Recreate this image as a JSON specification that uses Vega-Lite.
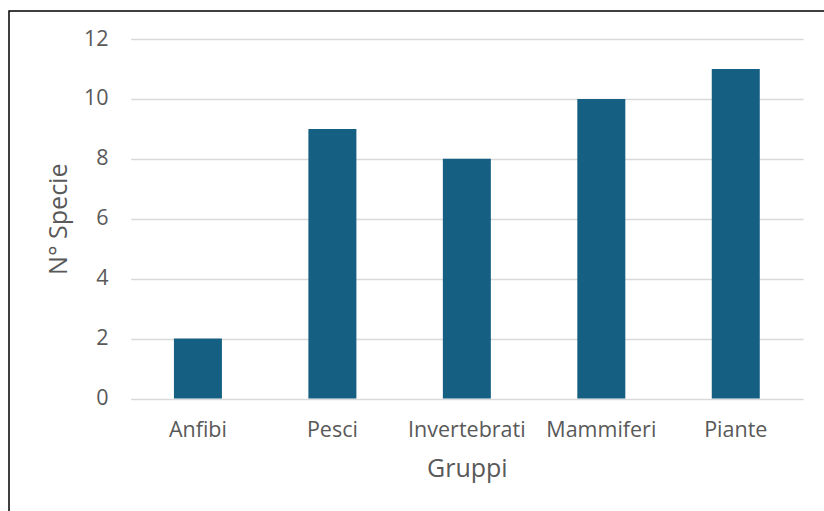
{
  "$schema": "https://vega.github.io/schema/vega-lite/v6.json",
  "autosize": {"type": "none"},
  "width": 830,
  "height": 520,
  "padding": {"left": 9, "top": 11, "right": 0, "bottom": 0},
  "background": "#ffffff",
  "config": {
    "view": {"stroke": "#000000", "strokeWidth": 1.5},
    "font": "Open Sans"
  },
  "data": {
    "values": [
      {"gruppo": "Anfibi", "specie": 2},
      {"gruppo": "Pesci", "specie": 9},
      {"gruppo": "Invertebrati", "specie": 8},
      {"gruppo": "Mammiferi", "specie": 10},
      {"gruppo": "Piante", "specie": 11}
    ]
  },
  "mark": {"type": "bar", "color": "#156082"},
  "encoding": {
    "x": {
      "field": "gruppo",
      "type": "nominal",
      "sort": null,
      "scale": {"range": [121.7, 794], "paddingInner": 0.643, "paddingOuter": 0.3215},
      "axis": {
        "title": "Gruppi",
        "orient": "bottom",
        "offset": -132.5,
        "ticks": false,
        "tickSize": 0,
        "domain": false,
        "grid": false,
        "labelAngle": 0,
        "labelPadding": 21,
        "labelFontSize": 21.5,
        "labelColor": "#595959",
        "titleFontSize": 25,
        "titleFontWeight": "normal",
        "titleColor": "#595959",
        "titlePadding": 15
      }
    },
    "y": {
      "field": "specie",
      "type": "quantitative",
      "scale": {"domain": [0, 12], "range": [387.5, 28], "nice": false},
      "axis": {
        "title": "N° Specie",
        "orient": "left",
        "offset": -99,
        "values": [0, 2, 4, 6, 8, 10, 12],
        "ticks": false,
        "tickSize": 0,
        "domain": false,
        "grid": true,
        "gridColor": "#d9d9d9",
        "gridWidth": 1.3,
        "labelPadding": 0,
        "labelFontSize": 21.5,
        "labelColor": "#595959",
        "titleFontSize": 25,
        "titleFontWeight": "normal",
        "titleColor": "#595959",
        "titlePadding": 12
      }
    }
  }
}
